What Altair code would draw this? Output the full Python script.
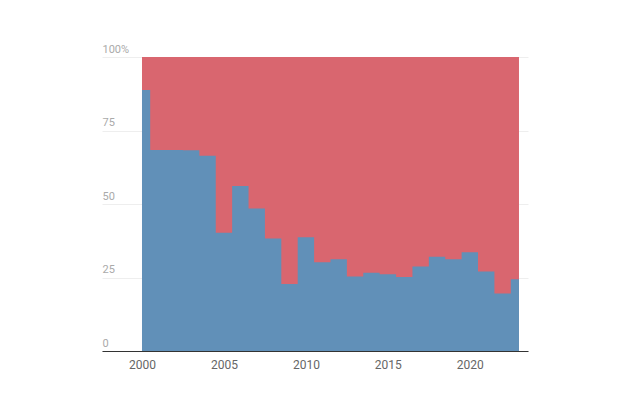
import altair as alt
import pandas as pd

years = list(range(2000, 2024))
blue = [88.8, 68.4, 68.4, 68.3, 66.4, 40.2, 56.1, 48.5, 38.3, 22.8,
        38.7, 30.2, 31.2, 25.3, 26.6, 26.1, 25.2, 28.7, 32.1, 31.2,
        33.6, 27.0, 19.6, 24.4]
red = [100 - b for b in blue]

df = pd.DataFrame({"year": years, "blue": blue, "red": red})
df["total"] = df["blue"] + df["red"]

x = alt.X("year:Q",
          scale=alt.Scale(domain=[1997.56, 2023.55], nice=False, zero=False),
          axis=alt.Axis(values=[2000, 2005, 2010, 2015, 2020], format="d",
                        grid=False, ticks=False, domainColor="#333333",
                        domainWidth=1.2, labelColor="#666666", labelFontSize=12,
                        labelPadding=8, title=None, labelFont="Roboto"))
yaxis = alt.Axis(values=[0, 25, 50, 75, 100], grid=True, gridColor="#eeeeee",
                 domain=False, ticks=False, labelAlign="left",
                 labelBaseline="bottom", labelOffset=-3, labelPadding=0,
                 labelColor="#aaaaaa", labelFontSize=11, labelFont="Roboto",
                 labelExpr="datum.value == 100 ? '100%' : datum.label",
                 title=None)
yscale = alt.Scale(domain=[0, 100], nice=False)

base = alt.Chart(df)
red_area = base.mark_area(interpolate="step", color="#d9666f").encode(
    x=x, y=alt.Y("total:Q", scale=yscale, axis=yaxis))
blue_area = base.mark_area(interpolate="step", color="#6190b8").encode(
    x=x, y=alt.Y("blue:Q", scale=yscale, axis=yaxis))

chart = alt.layer(red_area, blue_area).properties(
    width=426, height=294,
    background="white",
    autosize=alt.AutoSizeParams(type="none"),
    padding={"left": 94, "top": 49, "right": 80, "bottom": 50},
).configure_view(stroke=None)

chart.save("out.html", embed_options={"renderer": "svg", "actions": False})
